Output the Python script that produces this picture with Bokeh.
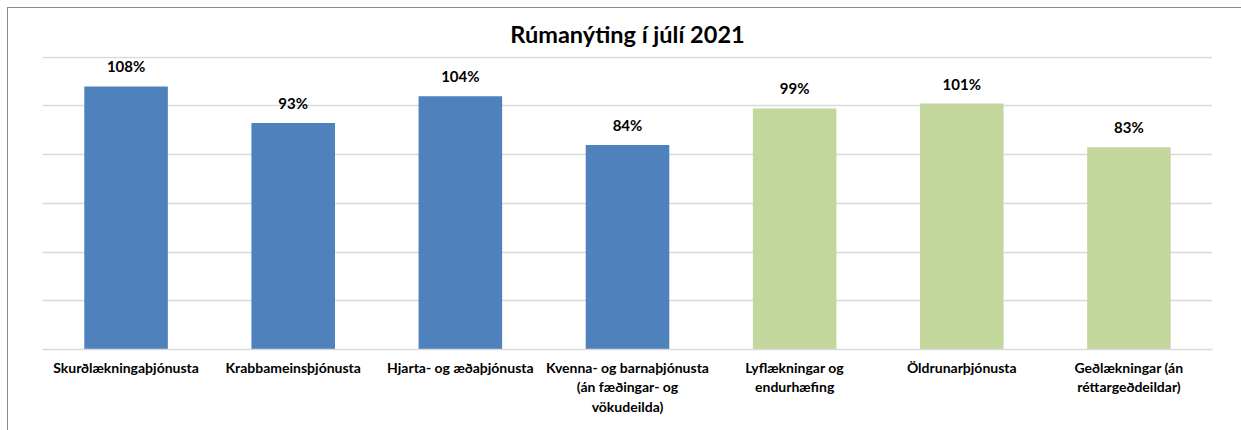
from bokeh.plotting import figure
from bokeh.models import ColumnDataSource, FactorRange, Range1d, SingleIntervalTicker
from bokeh.core.properties import value
from bokeh.embed import file_html
from bokeh.resources import INLINE

categories = [
    "Skurðlækningaþjónusta",
    "Krabbameinsþjónusta",
    "Hjarta- og æðaþjónusta",
    "Kvenna- og barnaþjónusta\n(án fæðingar- og\nvökudeilda)",
    "Lyflækningar og\nendurhæfing",
    "Öldrunarþjónusta",
    "Geðlækningar (án\nréttargeðdeildar)",
]
values = [108, 93, 104, 84, 99, 101, 83]
groups = ["blue", "blue", "blue", "blue", "green", "green", "green"]
palette = {"blue": "#4f81bd", "green": "#c3d69b"}

FONT = "Lato"

src = ColumnDataSource(dict(
    cat=categories,
    val=values,
    lab=[f"{v}%" for v in values],
    color=[palette[g] for g in groups],
))

p = figure(
    x_range=FactorRange(*categories, range_padding=0),
    y_range=Range1d(0, 120.3),
    width=1241, height=430,
    output_backend="svg", toolbar_location=None,
    title="Rúmanýting í júlí 2021",
    min_border_left=42, min_border_right=29,
    min_border_top=56, min_border_bottom=81,
)
p.border_fill_color = None
p.background_fill_color = None
p.styles = {
    "background": (
        "linear-gradient(#8c8c8c, #8c8c8c) 7px 7px / 1px 100% no-repeat, "
        "linear-gradient(#8c8c8c, #8c8c8c) 7px 7px / 100% 1px no-repeat, #ffffff"
    ),
}

p.title.align = "center"
p.title.text_font = FONT
p.title.text_font_size = "23.5px"
p.title.text_font_style = "bold"
p.title.text_color = "#000000"
p.title.standoff = 14
p.title.vertical_align = "top"

p.vbar(x="cat", top="val", width=0.5, color="color", line_color=None, source=src)
p.text(x="cat", y="val", text="lab", source=src, text_align="center",
       text_baseline="bottom", y_offset=-11, text_font=value(FONT),
       text_font_size="15px", text_font_style="bold", text_color="#000000")

p.outline_line_color = None
p.yaxis.visible = False
p.yaxis.ticker = SingleIntervalTicker(interval=20)
p.ygrid.ticker = SingleIntervalTicker(interval=20)
p.ygrid.grid_line_color = "#d9d9d9"
p.ygrid.grid_line_width = 1.3
p.xgrid.grid_line_color = None

ax = p.xaxis[0]
ax.axis_line_color = "#d9d9d9"
ax.axis_line_width = 1.5
ax.major_tick_line_color = None
ax.minor_tick_line_color = None
ax.major_label_standoff = 3
ax.major_label_text_font = FONT
ax.major_label_text_font_size = "14px"
ax.major_label_text_font_style = "bold"
ax.major_label_text_color = "#000000"
ax.major_label_text_line_height = 1.17

open("out.html", "w").write(file_html(p, INLINE))
